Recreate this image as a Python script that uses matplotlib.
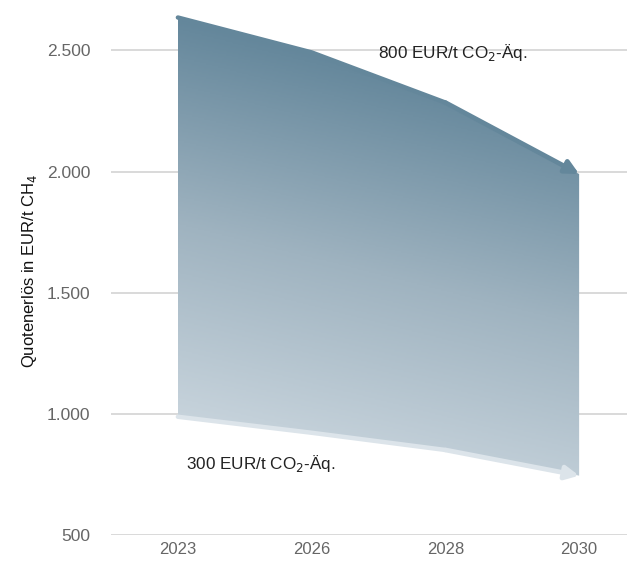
import numpy as np
import matplotlib
matplotlib.use("Agg")
import matplotlib.pyplot as plt
from matplotlib.patches import Polygon
from matplotlib.colors import LinearSegmentedColormap

# ── data ─────────────────────────────────────────────────────────────────────
YEARS = ["2023", "2026", "2028", "2030"]
UPPER = [2636, 2492, 2285, 1990]   # 800 EUR/t CO2-Äq.
LOWER = [988, 922, 851, 745]       # 300 EUR/t CO2-Äq.
YTICKS = [500, 1000, 1500, 2000, 2500]
YTICK_LABELS = ["500", "1.000", "1.500", "2.000", "2.500"]

plt.rcParams["font.family"] = ["Liberation Sans", "DejaVu Sans"]

fig = plt.figure(figsize=(6.27, 5.62), dpi=100)
ax = fig.add_axes([111 / 627, 27 / 562, 535 / 627, 533 / 562])

x = np.arange(len(YEARS))
ax.set_xlim(-0.5, 3.5)
ax.set_ylim(500, 2700)

# grid
for v in YTICKS:
    ax.axhline(v, color="#d9d9d9", lw=1.4, zorder=0)

# gradient area clipped to the band between the two lines
poly_pts = list(zip(x, UPPER)) + list(zip(x[::-1], LOWER[::-1]))
poly = Polygon(poly_pts, closed=True, facecolor="none", edgecolor="none")
ax.add_patch(poly)

cmap = LinearSegmentedColormap.from_list(
    "band", ["#cdd8e0", "#9fb3c0", "#5f8398"])
gx = np.linspace(0, 3, 200)
gy = np.linspace(min(LOWER), max(UPPER), 300)
GX, GY = np.meshgrid(gx, gy)
d = 0.82 * (GY - min(LOWER)) / (max(UPPER) - min(LOWER)) + 0.18 * GX / 3
im = ax.imshow(d, extent=(0, 3, min(LOWER), max(UPPER)), origin="lower",
               cmap=cmap, vmin=0.05, vmax=0.85, aspect="auto", zorder=1)
im.set_clip_path(poly)

# upper line with arrow
ax.plot(x[:3], UPPER[:3], color="#64879b", lw=3.2, solid_capstyle="round",
        zorder=2)
ax.annotate("", xy=(x[3], UPPER[3]), xytext=(x[2], UPPER[2]),
            arrowprops=dict(arrowstyle="-|>,head_length=0.8,head_width=0.4",
                            color="#64879b", lw=3.4, shrinkA=0, shrinkB=0),
            zorder=2)

# lower line with arrow
ax.plot(x[:3], LOWER[:3], color="#dce4ea", lw=3.2, solid_capstyle="round",
        zorder=2)
ax.annotate("", xy=(x[3], LOWER[3]), xytext=(x[2], LOWER[2]),
            arrowprops=dict(arrowstyle="-|>,head_length=0.8,head_width=0.4",
                            color="#dce4ea", lw=3.4, shrinkA=0, shrinkB=0),
            zorder=2)

ax.text(1.5, 2490, "800 EUR/t CO$_2$-Äq.", fontsize=12.3, color="#222222",
        ha="left", va="center", zorder=3)
ax.text(0.06, 797, "300 EUR/t CO$_2$-Äq.", fontsize=12.3, color="#222222",
        ha="left", va="center", zorder=3)

ax.set_xticks(x)
ax.set_xticklabels(YEARS, color="#666666", fontsize=12)
ax.set_yticks(YTICKS)
ax.set_yticklabels(YTICK_LABELS, color="#666666", fontsize=12.5)
ax.tick_params(length=0)
ax.tick_params(axis="x", pad=5)
ax.tick_params(axis="y", pad=15)
for s in ax.spines.values():
    s.set_visible(False)

ax.set_ylabel("Quotenerlös in EUR/t CH$_4$", fontsize=12, color="#111111")
ax.yaxis.set_label_coords((39 - 111) / 535, (535 - 271) / 533)

fig.savefig("out.png", dpi=100)
